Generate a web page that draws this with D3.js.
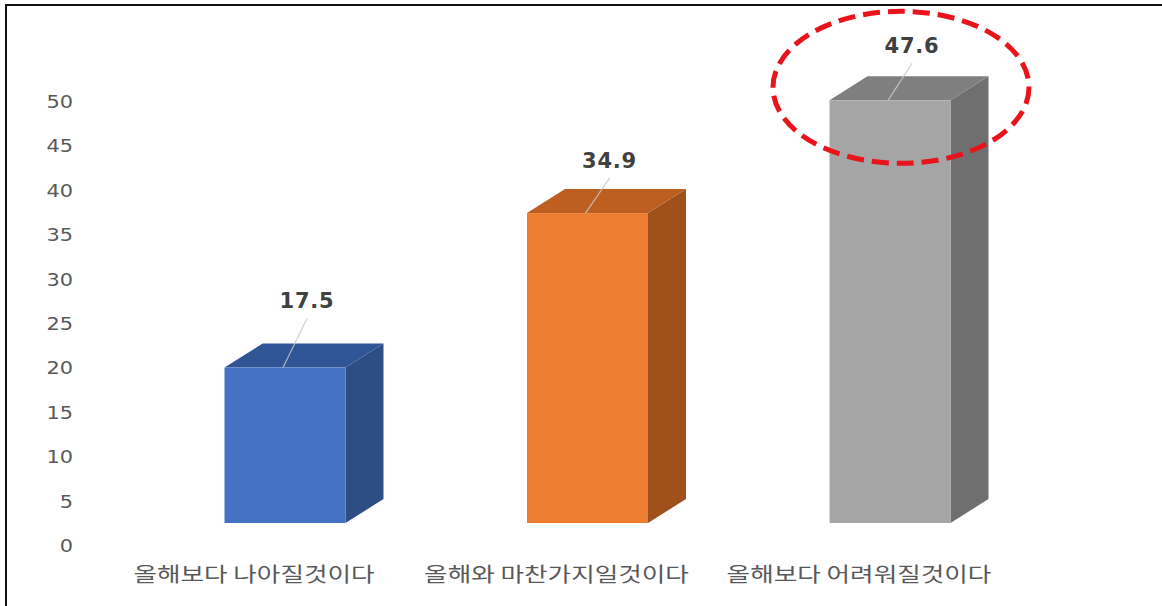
<!DOCTYPE html>
<html>
<head>
<meta charset="utf-8">
<script src="https://cdn.jsdelivr.net/npm/d3@7"></script>
<style>
  html, body { margin: 0; padding: 0; background: #fff; }
  svg { display: block; }
</style>
</head>
<body>
<svg id="chart" width="1162" height="606"></svg>
<script>
// Outlook for next year (%)
const categories = ["올해보다 나아질것이다", "올해와 마찬가지일것이다", "올해보다 어려워질것이다"];
const values = [17.5, 34.9, 47.6];
const yTicks = [0, 5, 10, 15, 20, 25, 30, 35, 40, 45, 50];

const W = 1162, H = 606;
const svg = d3.select("#chart");

// frame lines (left and top)
svg.append("line").attr("x1", 6).attr("y1", 5).attr("x2", 6).attr("y2", H)
  .attr("stroke", "#111").attr("stroke-width", 2);
svg.append("line").attr("x1", 5).attr("y1", 5).attr("x2", W).attr("y2", 5)
  .attr("stroke", "#111").attr("stroke-width", 2);

// scales
const y = d3.scaleLinear().domain([0, 50]).range([545, 101]);
const x = d3.scaleBand().domain(categories).range([43, 1132])
  .paddingInner(0.6).paddingOuter(0.6);
const bw = x.bandwidth();

// 3D projection: front face sits forward of the back wall
const frontDrop = 22;          // front face floor is this far below axis zero
const depthX = 38, depthY = -24;
const frontY = v => y(v) - frontDrop;

// y axis labels
const yAxis = d3.axisLeft(y).tickValues(yTicks).tickSize(0).tickPadding(0);
const gy = svg.append("g").attr("transform", "translate(73,0)").call(yAxis);
gy.select(".domain").remove();
gy.selectAll("text")
  .attr("font-family", "'DejaVu Sans', Verdana, sans-serif")
  .attr("font-size", 18)
  .attr("transform", "scale(1.16,1)")
  .attr("fill", "#595959")
  .attr("dy", "0.36em");

const palette = [
  { front: "#4472C4", top: "#2F5597", side: "#2D4D85" },
  { front: "#ED7D31", top: "#BC5F20", side: "#A0501B" },
  { front: "#A5A5A5", top: "#7F7F7F", side: "#6F6F6F" }
];

const bars = svg.append("g");
categories.forEach((c, i) => {
  const v = values[i];
  const x0 = x(c), x1 = x(c) + bw;
  const yt = frontY(v), yb = frontY(0);
  const col = palette[i];
  const g = bars.append("g");
  // side face
  g.append("path")
    .attr("d", `M${x1},${yt} L${x1 + depthX},${yt + depthY} L${x1 + depthX},${yb + depthY} L${x1},${yb} Z`)
    .attr("fill", col.side);
  // top face
  g.append("path")
    .attr("d", `M${x0},${yt} L${x0 + depthX},${yt + depthY} L${x1 + depthX},${yt + depthY} L${x1},${yt} Z`)
    .attr("fill", col.top);
  // front face
  g.append("rect")
    .attr("x", x0).attr("y", yt).attr("width", bw).attr("height", yb - yt)
    .attr("fill", col.front);
});

// value labels with leader lines
const labelLift = [67, 53, 55];
const labels = svg.append("g");
categories.forEach((c, i) => {
  const v = values[i];
  const cx = x(c) + bw / 2;
  const yt = frontY(v);
  const lx = cx + 22, ly = yt - labelLift[i];
  labels.append("line")
    .attr("x1", cx - 2).attr("y1", yt)
    .attr("x2", lx).attr("y2", ly + 18)
    .attr("stroke", "#C8C8C8").attr("stroke-width", 1.2).attr("opacity", 0.85);
  labels.append("text")
    .attr("x", lx).attr("y", ly).attr("dy", "0.36em")
    .attr("text-anchor", "middle")
    .attr("font-family", "'DejaVu Sans', Verdana, sans-serif")
    .attr("font-weight", "bold")
    .attr("font-size", 21)
    .attr("letter-spacing", 0.8)
    .attr("fill", "#404040")
    .text(v.toFixed(1));
});

// category labels (wide set)
svg.append("g").selectAll("text").data(categories).join("text")
  .attr("transform", d => `translate(${x(d) + bw / 2 - 31},575) scale(1.28,1)`)
  .attr("dy", "0.36em")
  .attr("text-anchor", "middle")
  .attr("font-family", "'Noto Sans CJK KR', sans-serif")
  .attr("font-size", 20)
  .attr("fill", "#595959")
  .text(d => d);

// highlight ring around the largest bar
const iMax = d3.maxIndex(values);
const hx = x(categories[iMax]) + bw / 2 + 11;
svg.append("ellipse")
  .attr("cx", hx).attr("cy", frontY(values[iMax]) - 13)
  .attr("rx", 128).attr("ry", 76)
  .attr("fill", "none")
  .attr("stroke", "#E8131B").attr("stroke-width", 5)
  .attr("stroke-dasharray", "17 8");
</script>
</body>
</html>
